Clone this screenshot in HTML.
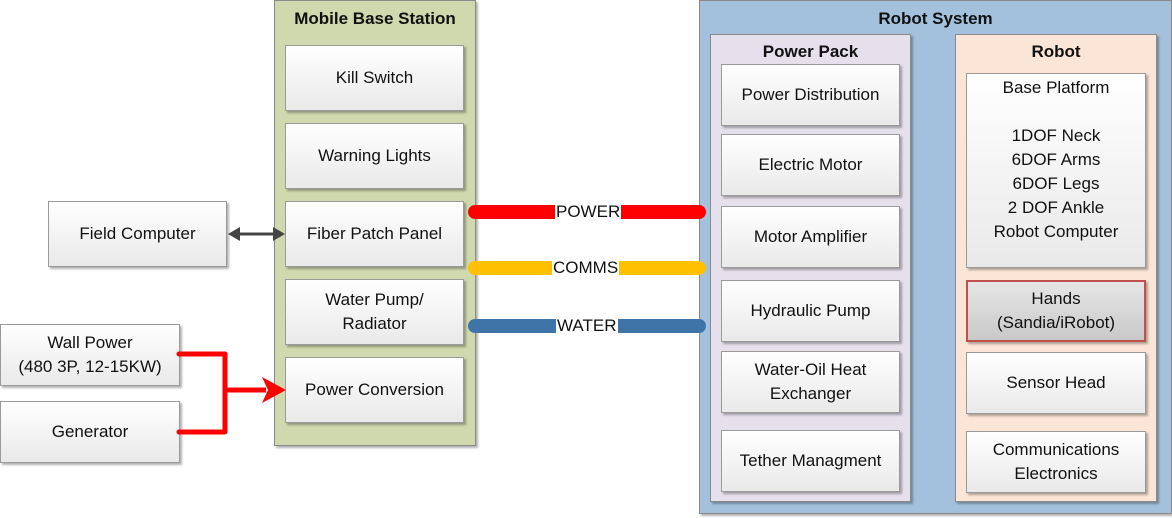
<!DOCTYPE html><html><head><style>
body{margin:0;width:1172px;height:518px;position:relative;background:#fff;font-family:"Liberation Sans",sans-serif;overflow:hidden}
.c{position:absolute;box-sizing:border-box;border:1px solid #8a8a8a;box-shadow:2px 2px 2px rgba(0,0,0,.3)}
.t{position:absolute;left:0;right:0;text-align:center;font-weight:bold;font-size:17px;color:#111}
.b{position:absolute;box-sizing:border-box;border:1px solid #9a9a9a;background:linear-gradient(#fff,#e9e9e9);box-shadow:2px 2px 2px rgba(0,0,0,.3);display:flex;align-items:center;justify-content:center;text-align:center;font-size:17px;color:#111;line-height:24px}
.cab{position:absolute;height:14px;border-radius:7px}
.lab{position:absolute;background:#fff;font-size:17px;line-height:20px;padding:0 1px;color:#111}
</style></head><body>
<div class="c" style="left:274px;top:0;width:202px;height:446px;background:#d0d8ae"><div class="t" style="top:8px">Mobile Base Station</div></div>
<div class="b" style="left:285px;top:45px;width:179px;height:66px">Kill Switch</div>
<div class="b" style="left:285px;top:123px;width:179px;height:66px">Warning Lights</div>
<div class="b" style="left:285px;top:201px;width:179px;height:66px">Fiber Patch Panel</div>
<div class="b" style="left:285px;top:279px;width:179px;height:66px">Water Pump/<br>Radiator</div>
<div class="b" style="left:285px;top:357px;width:179px;height:66px">Power Conversion</div>
<div class="b" style="left:48px;top:201px;width:179px;height:66px">Field Computer</div>
<div class="b" style="left:0;top:324px;width:180px;height:62px">Wall Power<br>(480 3P, 12-15KW)</div>
<div class="b" style="left:0;top:401px;width:180px;height:62px">Generator</div>
<div class="c" style="left:699px;top:0;width:473px;height:514px;background:#a3c1dc"><div class="t" style="top:8px">Robot System</div></div>
<div class="c" style="left:710px;top:34px;width:201px;height:468px;background:#e5e0ec"><div class="t" style="top:7px">Power Pack</div></div>
<div class="c" style="left:955px;top:34px;width:202px;height:468px;background:#fbe5d6"><div class="t" style="top:7px">Robot</div></div>
<div class="b" style="left:721px;top:64px;width:179px;height:62px">Power Distribution</div>
<div class="b" style="left:721px;top:134px;width:179px;height:62px">Electric Motor</div>
<div class="b" style="left:721px;top:206px;width:179px;height:62px">Motor Amplifier</div>
<div class="b" style="left:721px;top:280px;width:179px;height:62px">Hydraulic Pump</div>
<div class="b" style="left:721px;top:351px;width:179px;height:62px">Water-Oil Heat<br>Exchanger</div>
<div class="b" style="left:721px;top:430px;width:179px;height:62px">Tether Managment</div>
<div class="b" style="left:966px;top:73px;width:180px;height:195px;align-items:flex-start;padding-top:2px">Base Platform<br><br>1DOF Neck<br>6DOF Arms<br>6DOF Legs<br>2 DOF Ankle<br>Robot Computer</div>
<div class="b" style="left:966px;top:280px;width:180px;height:62px;background:linear-gradient(#e6e6e6,#c9c9c9);border:2px solid #c0504d">Hands<br>(Sandia/iRobot)</div>
<div class="b" style="left:966px;top:352px;width:180px;height:62px">Sensor Head</div>
<div class="b" style="left:966px;top:431px;width:180px;height:62px">Communications<br>Electronics</div>
<div class="cab" style="left:468px;top:205px;width:238px;background:#ff0000"></div>
<div class="lab" style="left:555px;top:202px">POWER</div>
<div class="cab" style="left:468px;top:261px;width:238px;background:#ffc000"></div>
<div class="lab" style="left:552px;top:258px">COMMS</div>
<div class="cab" style="left:468px;top:319px;width:238px;background:#3e74a8"></div>
<div class="lab" style="left:556px;top:316px">WATER</div>
<svg style="position:absolute;left:0;top:0" width="1172" height="518">
<line x1="238" y1="234" x2="276" y2="234" stroke="#444" stroke-width="3"/>
<polygon points="228,234 240,227 240,241" fill="#444"/><polygon points="285,234 273,227 273,241" fill="#444"/>
<polyline points="179,354 225,354 225,432 179,432" fill="none" stroke="#f00" stroke-width="5" stroke-linejoin="round" stroke-linecap="round"/>
<line x1="225" y1="390" x2="266" y2="390" stroke="#f00" stroke-width="5"/>
<polygon points="286,390 262,377 268,390 262,403" fill="#f00"/>
</svg>
</body></html>
